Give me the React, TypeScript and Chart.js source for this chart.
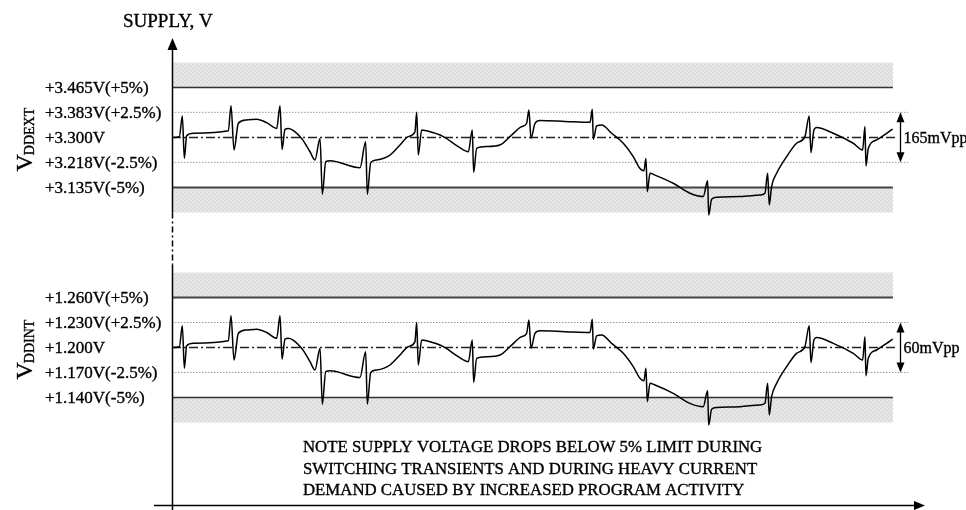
import React, { useEffect, useRef } from "react";
import { Chart, registerables } from "chart.js";
Chart.register(...registerables);

// time axis (arbitrary units, 0..100 = full trace)
const timeUnits = [
  0, 1.02, 1.43, 1.71, 2.03, 2.96, 7.81, 8.18, 8.6, 9.2,
  10.36, 11.74, 13.13, 14.52, 14.98, 15.26, 15.67, 16.13, 17.98, 19.14,
  19.83, 20.53, 20.85, 21.32, 21.91, 26.07, 26.86, 27.09, 27.56, 28.39,
  30.24, 31.62, 32.78, 33.7, 33.94, 34.16, 34.63, 35.32, 37.63, 39.71,
  41.1, 41.65, 41.84, 42.26, 43.65, 45.49, 46.88, 48.5, 49.19, 49.51,
  49.79, 50.35, 51.04, 54.51, 57.98, 58.3, 58.44, 58.9, 59.6, 60.98,
  62.6, 63.98, 64.91, 65.46, 65.74, 65.93, 66.3, 66.99, 69.53, 71.84,
  73.69, 74.3, 74.44, 74.85, 75.55, 78.78, 81.55, 82.25, 82.62, 82.85,
  83.17, 83.87, 85.26, 86.64, 87.79, 88.39, 88.63, 89.04, 89.42, 91.72,
  94.5, 95.8, 96.12, 96.26, 96.58, 97.74, 99.13, 99.96,
];

const vddExt = [
  3.3, 3.303, 3.371, 3.231, 3.306, 3.314, 3.322, 3.405, 3.259, 3.347,
  3.358, 3.36, 3.349, 3.33, 3.405, 3.261, 3.327, 3.33, 3.297, 3.253,
  3.226, 3.297, 3.113, 3.22, 3.223, 3.2, 3.286, 3.113, 3.217, 3.226,
  3.242, 3.275, 3.303, 3.319, 3.383, 3.242, 3.325, 3.322, 3.303, 3.27,
  3.253, 3.325, 3.185, 3.264, 3.27, 3.275, 3.303, 3.336, 3.347, 3.391,
  3.297, 3.347, 3.356, 3.353, 3.35, 3.393, 3.294, 3.338, 3.341, 3.314,
  3.281, 3.237, 3.198, 3.19, 3.231, 3.121, 3.182, 3.176, 3.149, 3.116,
  3.105, 3.157, 3.044, 3.096, 3.103, 3.105, 3.11, 3.116, 3.182, 3.077,
  3.138, 3.182, 3.237, 3.281, 3.303, 3.371, 3.25, 3.325, 3.333, 3.314,
  3.281, 3.259, 3.336, 3.206, 3.264, 3.292, 3.314, 3.328,
];

const vddInt = [
  1.2, 1.201, 1.226, 1.175, 1.202, 1.205, 1.208, 1.238, 1.185, 1.217,
  1.221, 1.222, 1.218, 1.211, 1.238, 1.186, 1.21, 1.211, 1.199, 1.183,
  1.173, 1.199, 1.132, 1.171, 1.172, 1.164, 1.195, 1.132, 1.17, 1.173,
  1.179, 1.191, 1.201, 1.207, 1.23, 1.179, 1.209, 1.208, 1.201, 1.189,
  1.183, 1.209, 1.158, 1.187, 1.189, 1.191, 1.201, 1.213, 1.217, 1.233,
  1.199, 1.217, 1.22, 1.219, 1.218, 1.234, 1.198, 1.214, 1.215, 1.205,
  1.193, 1.177, 1.163, 1.16, 1.175, 1.135, 1.157, 1.155, 1.145, 1.133,
  1.129, 1.148, 1.107, 1.126, 1.128, 1.129, 1.131, 1.133, 1.157, 1.119,
  1.141, 1.157, 1.177, 1.193, 1.201, 1.226, 1.182, 1.209, 1.212, 1.205,
  1.193, 1.185, 1.213, 1.166, 1.187, 1.197, 1.205, 1.21,
];

const extLevels = [3.465, 3.383, 3.3, 3.218, 3.135];
const extLabels = ["+3.465V(+5%)", "+3.383V(+2.5%)", "+3.300V", "+3.218V(-2.5%)", "+3.135V(-5%)"];
const intLevels = [1.26, 1.23, 1.2, 1.17, 1.14];
const intLabels = ["+1.260V(+5%)", "+1.230V(+2.5%)", "+1.200V", "+1.170V(-2.5%)", "+1.140V(-5%)"];
const extBands = [[3.465, 3.5475], [3.0525, 3.135]];
const intBands = [[1.26, 1.29], [1.11, 1.14]];
const rippleLabels = ["165mVpp", "60mVpp"];
const panelNames = [["V", "DDEXT"], ["V", "DDINT"]];
const yAxisTitle = "SUPPLY, V";
const noteLines = [
  "NOTE SUPPLY VOLTAGE DROPS BELOW 5% LIMIT DURING",
  "SWITCHING TRANSIENTS AND DURING HEAVY CURRENT",
  "DEMAND CAUSED BY INCREASED PROGRAM ACTIVITY",
];

const SERIF = '"Liberation Serif", "Times New Roman", "DejaVu Serif", serif';

function makePattern(ctx: CanvasRenderingContext2D) {
  const c = document.createElement("canvas");
  c.width = 4;
  c.height = 4;
  const g = c.getContext("2d")!;
  g.fillStyle = "#e3e3e3";
  g.fillRect(0, 0, 4, 4);
  g.fillStyle = "#d0d0d0";
  g.fillRect(0, 0, 1, 1);
  g.fillRect(2, 2, 1, 1);
  g.fillStyle = "#ececec";
  g.fillRect(2, 0, 1, 1);
  g.fillRect(0, 2, 1, 1);
  return ctx.createPattern(c, "repeat");
}

function hline(x0: number, x1: number, y: number, axis: string, color: string, width: number, dash: number[] = []) {
  return {
    data: [{ x: x0, y }, { x: x1, y }],
    yAxisID: axis,
    borderColor: color,
    borderWidth: width,
    borderDash: dash,
    pointRadius: 0,
    fill: false,
  } as any;
}

function txt(ctx: CanvasRenderingContext2D, s: string, x: number, y: number) {
  ctx.fillText(s, x, y);
  ctx.strokeText(s, x, y);
}

const overlay = {
  id: "overlay",
  afterDatasetsDraw(chart: any) {
    const ctx: CanvasRenderingContext2D = chart.ctx;
    const xs = chart.scales.x;
    const ye = chart.scales.yExt;
    const yi = chart.scales.yInt;
    const area = chart.chartArea;
    const ax = Math.round(xs.getPixelForValue(0)) + 0.5;
    ctx.save();
    ctx.strokeStyle = "#000";
    ctx.fillStyle = "#000";

    // y axis
    const breakTop = ye.getPixelForValue(extBands[1][0]);
    const breakBot = yi.getPixelForValue(intBands[0][1]) - 8;
    ctx.lineWidth = 1.5;
    ctx.beginPath();
    ctx.moveTo(ax, area.top + 10);
    ctx.lineTo(ax, breakTop);
    ctx.moveTo(ax, breakBot);
    ctx.lineTo(ax, area.bottom);
    ctx.stroke();
    ctx.setLineDash([6, 3, 2, 3]);
    ctx.beginPath();
    ctx.moveTo(ax, breakTop);
    ctx.lineTo(ax, breakBot);
    ctx.stroke();
    ctx.setLineDash([]);
    ctx.beginPath();
    ctx.moveTo(ax, area.top);
    ctx.lineTo(ax - 5, area.top + 12);
    ctx.lineTo(ax + 5, area.top + 12);
    ctx.closePath();
    ctx.fill();

    // x axis
    const xy = area.bottom - 4.5;
    ctx.lineWidth = 1.5;
    ctx.beginPath();
    ctx.moveTo(area.left, xy);
    ctx.lineTo(area.right - 8, xy);
    ctx.stroke();
    ctx.beginPath();
    ctx.moveTo(area.right, xy);
    ctx.lineTo(area.right - 11, xy - 4.5);
    ctx.lineTo(area.right - 11, xy + 4.5);
    ctx.closePath();
    ctx.fill();

    // text gets a hair-thin stroke to match the heavier reference rendering
    ctx.lineWidth = 0.35;

    // axis title
    ctx.font = `19px ${SERIF}`;
    ctx.textAlign = "left";
    ctx.textBaseline = "middle";
    txt(ctx, yAxisTitle, 123, 22);

    // level labels
    ctx.font = `17px ${SERIF}`;
    extLevels.forEach((v, i) => txt(ctx, extLabels[i], 45, ye.getPixelForValue(v) + 1.5));
    intLevels.forEach((v, i) => txt(ctx, intLabels[i], 45, yi.getPixelForValue(v) + 1.5));

    // ripple arrows
    const arrowX = Math.round(xs.getPixelForValue(101)) + 0.5;
    const drawRipple = (scale: any, hi: number, lo: number, label: string) => {
      const y0 = scale.getPixelForValue(hi);
      const y1 = scale.getPixelForValue(lo);
      ctx.lineWidth = 1.3;
      ctx.beginPath();
      ctx.moveTo(arrowX, y0 + 8);
      ctx.lineTo(arrowX, y1 - 8);
      ctx.stroke();
      ctx.beginPath();
      ctx.moveTo(arrowX, y0);
      ctx.lineTo(arrowX - 4, y0 + 10);
      ctx.lineTo(arrowX + 4, y0 + 10);
      ctx.closePath();
      ctx.fill();
      ctx.beginPath();
      ctx.moveTo(arrowX, y1);
      ctx.lineTo(arrowX - 4, y1 - 10);
      ctx.lineTo(arrowX + 4, y1 - 10);
      ctx.closePath();
      ctx.fill();
      ctx.lineWidth = 0.35;
      ctx.font = `16px ${SERIF}`;
      ctx.textAlign = "left";
      ctx.textBaseline = "middle";
      txt(ctx, label, arrowX + 3, (y0 + y1) / 2 + 1);
    };
    drawRipple(ye, extLevels[1], extLevels[3], rippleLabels[0]);
    drawRipple(yi, intLevels[1], intLevels[3], rippleLabels[1]);

    // panel names (rotated)
    const drawName = (cx: number, cyBottom: number, main: string, sub: string) => {
      ctx.save();
      ctx.translate(cx, cyBottom);
      ctx.rotate(-Math.PI / 2);
      ctx.textAlign = "left";
      ctx.textBaseline = "alphabetic";
      ctx.lineWidth = 0.35;
      ctx.font = `24px ${SERIF}`;
      txt(ctx, main, 0, 0);
      const w = ctx.measureText(main).width;
      ctx.font = `14px ${SERIF}`;
      txt(ctx, sub, w - 1, 2);
      ctx.restore();
    };
    drawName(32, ye.getPixelForValue(3.3) + 34, panelNames[0][0], panelNames[0][1]);
    drawName(32, yi.getPixelForValue(1.2) + 32, panelNames[1][0], panelNames[1][1]);

    // note
    ctx.font = `16.8px ${SERIF}`;
    ctx.textAlign = "left";
    ctx.textBaseline = "middle";
    noteLines.forEach((t, i) => txt(ctx, t, 303, 448 + i * 21.5));

    ctx.restore();
  },
};

export default function App() {
  const ref = useRef<HTMLCanvasElement>(null);
  useEffect(() => {
    const canvas = ref.current!;
    const ctx = canvas.getContext("2d")!;
    const pattern = makePattern(ctx);
    const ext = timeUnits.map((t, i) => ({ x: t, y: vddExt[i] }));
    const int = timeUnits.map((t, i) => ({ x: t, y: vddInt[i] }));
    const wave = (data: any, axis: string) => ({
      data,
      yAxisID: axis,
      borderColor: "#000",
      borderWidth: 1.5,
      pointRadius: 0,
      cubicInterpolationMode: "monotone",
      fill: false,
    });
    const band = (lo: number, hi: number, axis: string) => ({
      data: [{ x: 0, y: hi }, { x: 100, y: hi }],
      yAxisID: axis,
      borderWidth: 0,
      borderColor: "rgba(0,0,0,0)",
      backgroundColor: pattern,
      pointRadius: 0,
      fill: { value: lo },
    });
    const datasets: any[] = [
      wave(ext, "yExt"),
      wave(int, "yInt"),
      hline(0, 100.5, extLevels[2], "yExt", "#222", 1.4, [9, 3, 2, 3]),
      hline(0, 100.5, intLevels[2], "yInt", "#222", 1.4, [9, 3, 2, 3]),
      hline(0, 100, extLevels[0], "yExt", "#333", 1.6),
      hline(0, 100, extLevels[4], "yExt", "#444", 1.8),
      hline(0, 100, intLevels[0], "yInt", "#444", 1.8),
      hline(0, 100, intLevels[4], "yInt", "#333", 1.6),
      hline(0, 102.1, extLevels[1], "yExt", "#9a9a9a", 1, [1.5, 1.5]),
      hline(0, 102.1, extLevels[3], "yExt", "#9a9a9a", 1, [1.5, 1.5]),
      hline(0, 102.1, intLevels[1], "yInt", "#9a9a9a", 1, [1.5, 1.5]),
      hline(0, 102.1, intLevels[3], "yInt", "#9a9a9a", 1, [1.5, 1.5]),
      band(extBands[0][0], extBands[0][1], "yExt"),
      band(extBands[1][0], extBands[1][1], "yExt"),
      band(intBands[0][0], intBands[0][1], "yInt"),
      band(intBands[1][0], intBands[1][1], "yInt"),
    ];
    const chart = new Chart(canvas, {
      type: "line",
      data: { datasets },
      options: {
        animation: false,
        responsive: false,
        devicePixelRatio: 1,
        parsing: false as any,
        normalized: true,
        layout: { padding: { left: 154, right: 41, top: 38, bottom: 0 } },
        plugins: { legend: { display: false }, tooltip: { enabled: false } },
        events: [],
        scales: {
          x: { type: "linear", min: -2.5, max: 104.45, display: false },
          yExt: { type: "linear", position: "left", min: 2.0707, max: 3.6284, display: false },
          yInt: { type: "linear", position: "left", min: 1.005, max: 1.5714, display: false },
        },
      } as any,
      plugins: [overlay],
    });
    return () => chart.destroy();
  }, []);
  return (
    <div style={{ position: "fixed", left: 0, top: 0, width: 966, height: 510, background: "#fff" }}>
      <canvas ref={ref} width={966} height={510} style={{ display: "block", width: 966, height: 510 }} />
    </div>
  );
}
